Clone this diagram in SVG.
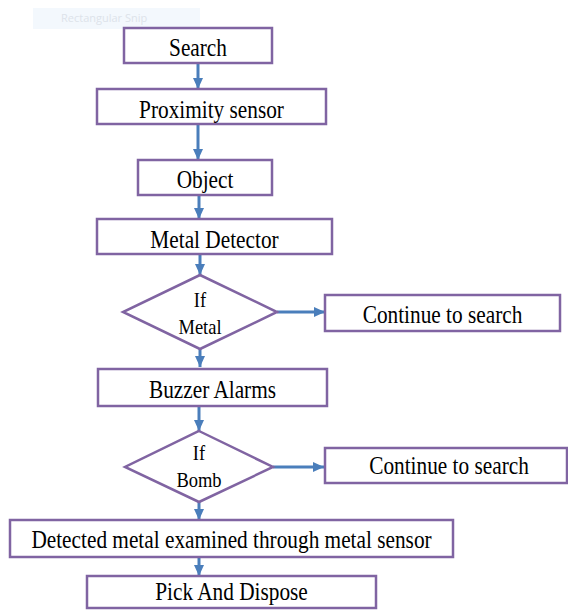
<svg xmlns="http://www.w3.org/2000/svg" width="568" height="610" viewBox="0 0 568 610">
<defs>
<style>
.box{fill:#fff;stroke:#8064a2;stroke-width:2.5}
.t{font-family:"Liberation Serif","Times New Roman",serif;font-size:21.3px;fill:#000;text-anchor:middle}
.d{font-family:"Liberation Serif","Times New Roman",serif;font-size:18.5px;fill:#000;text-anchor:middle}
.c{fill:none;stroke:#4a7ebb;stroke-width:3}
.snip{font-family:"Open Sans","Noto Sans",sans-serif;font-size:11px;fill:#dde3ea}
</style>
<marker id="ah" markerUnits="userSpaceOnUse" markerWidth="11" markerHeight="10" refX="11" refY="5" orient="auto">
<path d="M0,0 L11,5 L0,10 z" fill="#4a7ebb"/>
</marker>
</defs>
<rect width="568" height="610" fill="#fff"/>
<g id="snip">
<rect x="33" y="8" width="167" height="21" fill="#f3f8fd"/>
<text class="snip" x="61" y="22">Rectangular Snip</text>
</g>
<g id="connectors">
<line class="c" x1="198" y1="63" x2="198" y2="89" marker-end="url(#ah)"/>
<line class="c" x1="198" y1="124" x2="198" y2="160" marker-end="url(#ah)"/>
<line class="c" x1="199" y1="195" x2="199" y2="219" marker-end="url(#ah)"/>
<line class="c" x1="200" y1="254" x2="200" y2="275" marker-end="url(#ah)"/>
<line class="c" x1="200" y1="349" x2="200" y2="367" marker-end="url(#ah)"/>
<line class="c" x1="199" y1="407" x2="199" y2="431" marker-end="url(#ah)"/>
<line class="c" x1="199" y1="502" x2="199" y2="520" marker-end="url(#ah)"/>
<line class="c" x1="199" y1="557" x2="199" y2="576" marker-end="url(#ah)"/>
<line class="c" x1="277" y1="312" x2="325" y2="312" marker-end="url(#ah)"/>
<line class="c" x1="273" y1="467" x2="324" y2="467" marker-end="url(#ah)"/>
</g>
<g id="search">
<rect class="box" x="124" y="28" width="148" height="35"/>
<text class="t" transform="translate(198,56) scale(1,1.17)">Search</text>
</g>
<g id="proximity">
<rect class="box" x="97" y="89" width="229" height="35"/>
<text class="t" transform="translate(211.5,118) scale(1,1.17)">Proximity sensor</text>
</g>
<g id="object">
<rect class="box" x="138" y="160" width="134" height="35"/>
<text class="t" transform="translate(205,188) scale(1,1.17)">Object</text>
</g>
<g id="metal-detector">
<rect class="box" x="97" y="219" width="235" height="35"/>
<text class="t" transform="translate(214.5,248) scale(1,1.17)">Metal Detector</text>
</g>
<g id="if-metal">
<polygon class="box" points="200,275 277,312 200,349 123,312"/>
<text class="d" transform="translate(200,307) scale(1,1.15)">If</text>
<text class="d" transform="translate(200,334) scale(1,1.15)">Metal</text>
</g>
<g id="continue1">
<rect class="box" x="325" y="295" width="235" height="36"/>
<text class="t" transform="translate(442.5,323) scale(1,1.17)">Continue to search</text>
</g>
<g id="buzzer">
<rect class="box" x="98" y="369" width="229" height="37"/>
<text class="t" transform="translate(212.5,398) scale(1,1.17)">Buzzer Alarms</text>
</g>
<g id="if-bomb">
<polygon class="box" points="199,431 273,467 199,502 125,467"/>
<text class="d" transform="translate(199,460) scale(1,1.15)">If</text>
<text class="d" transform="translate(199,487) scale(1,1.15)">Bomb</text>
</g>
<g id="continue2">
<rect class="box" x="325" y="448" width="242" height="35"/>
<text class="t" transform="translate(449,474) scale(1,1.17)">Continue to search</text>
</g>
<g id="detected">
<rect class="box" x="10" y="520" width="443" height="37"/>
<text class="t" transform="translate(231.5,548) scale(1,1.17)">Detected metal examined through metal sensor</text>
</g>
<g id="pick">
<rect class="box" x="87" y="576" width="289" height="32"/>
<text class="t" transform="translate(231.5,600) scale(1,1.17)">Pick And Dispose</text>
</g>
</svg>
